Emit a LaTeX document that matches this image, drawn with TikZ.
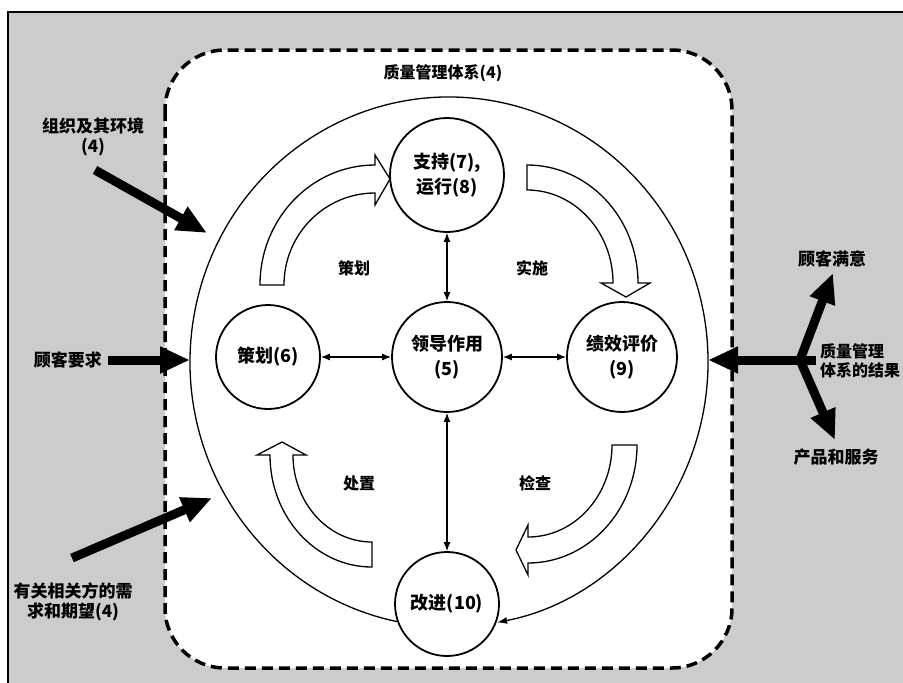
\documentclass[tikz,border=0pt]{standalone}
\usepackage{fontspec}
\setmainfont{Noto Sans CJK SC}
\usetikzlibrary{arrows.meta}
\tikzset{
  stage/.style={circle, draw, line width=1.8pt, fill=white, inner sep=0pt,
    font=\bfseries\fontsize{18}{25}\selectfont, align=center},
  link/.style={{Latex[length=9pt,width=7pt]}-{Latex[length=9pt,width=7pt]}, line width=1.1pt},
  block/.style={draw, line width=1.3pt, fill=white, line join=miter},
  bigarrow/.style={line width=9pt, -{Triangle[length=30pt,width=25pt]}},
  phase/.style={font=\bfseries\fontsize{16}{20}\selectfont},
  outlbl/.style={font=\bfseries\fontsize{17}{20}\selectfont, align=center},
  qmsbox/.style={draw, line width=3.5pt, dash pattern=on 11pt off 6pt, fill=white, rounded corners=60pt},
}
\begin{document}
\begin{tikzpicture}[x=1pt,y=-1pt]
\useasboundingbox (0,0) rectangle (903,683);
% background
\fill[white] (0,0) rectangle (903,683);
\fill[black!20] (8,12) rectangle (903,683);
\draw[line width=2pt] (8,683) -- (8,12) -- (903,12);
% QMS box
\draw[qmsbox] (165,50) rectangle (732,668);
\node[phase] (title) at (443,73) {质量管理体系(4)};
% big ring
\coordinate (ring) at (449,362);
\draw[line width=1.3pt, -{Latex[length=10pt,width=7pt]}] (ring) ++(101.6:259 and 265)
  arc[start angle=101.6, end angle=439.3, x radius=259, y radius=265];
% block arrows
\draw[block] (260,285) arc[start angle=180, end angle=270, x radius=115, y radius=120]
  -- (375,155) -- (390,179) -- (375,205) -- (375,193)
  arc[start angle=270, end angle=180, x radius=91, y radius=92] -- cycle;
\draw[block] (527,165) arc[start angle=270, end angle=360, x radius=111, y radius=118]
  -- (650,283) -- (626,297) -- (601,283) -- (613,283)
  arc[start angle=0, end angle=-90, x radius=86, y radius=93] -- cycle;
\draw[block] (637,445) arc[start angle=0, end angle=90, x radius=109, y radius=118]
  -- (528,575) -- (516,550) -- (528,525) -- (528,537)
  arc[start angle=90, end angle=0, x radius=84, y radius=92] -- cycle;
\draw[block] (372,567) arc[start angle=90, end angle=180, x radius=102, y radius=112]
  -- (257,455) -- (282,442) -- (306,455) -- (293,455)
  arc[start angle=180, end angle=90, x radius=79, y radius=87] -- cycle;
% stages
\node[stage, minimum size=114pt] (sup) at (447,175) {支持(7),\\运行(8)};
\node[stage, minimum size=104pt] (plan) at (268,357) {策划(6)};
\node[stage, minimum size=110pt] (lead) at (447,357) {领导作用\\(5)};
\node[stage, minimum size=110pt] (perf) at (622,357) {绩效评价\\(9)};
\node[stage, minimum size=104pt] (impr) at (447,604) {改进(10)};
\draw[link] (sup) -- (lead);
\draw[link] (plan) -- (lead);
\draw[link] (lead) -- (perf);
\draw[link] (lead) -- (impr);
% phase labels
\node[phase] (lplan) at (354,268) {策划};
\node[phase] (ldo) at (532,268) {实施};
\node[phase] (lact) at (359,483) {处置};
\node[phase] (lchk) at (535,483) {检查};
% outside labels
\node[outlbl] (env) at (93,137) {组织及其环境\\(4)};
\node[outlbl] (creq) at (68,360) {顾客要求};
\node[outlbl] (party) at (73,602) {有关相关方的需\\求和期望(4)};
\node[outlbl] (sat) at (832,259) {顾客满意};
\node[outlbl, font=\bfseries\fontsize{16}{19}\selectfont, anchor=west, align=left, inner sep=0pt] (res) at (820,361) {质量管理\\体系的结果};
\node[outlbl] (prod) at (836,457) {产品和服务};
% thick arrows
\coordinate (envT) at (95,170); \coordinate (envH) at (207,233);
\coordinate (creqT) at (108,360); \coordinate (creqH) at (190,360);
\coordinate (partyT) at (72,558); \coordinate (partyH) at (212,498);
\coordinate (hub) at (800,360); \coordinate (hubR) at (816,360);
\coordinate (resH) at (708,360);
\coordinate (satH) at (833,273); \coordinate (prodH) at (835,440);
\draw[bigarrow] (envT) -- (envH);
\draw[bigarrow] (creqT) -- (creqH);
\draw[bigarrow] (partyT) -- (partyH);
\draw[bigarrow] (hubR) -- (resH);
\draw[bigarrow] (hub) -- (satH);
\draw[bigarrow] (hub) -- (prodH);
\end{tikzpicture}
\end{document}
